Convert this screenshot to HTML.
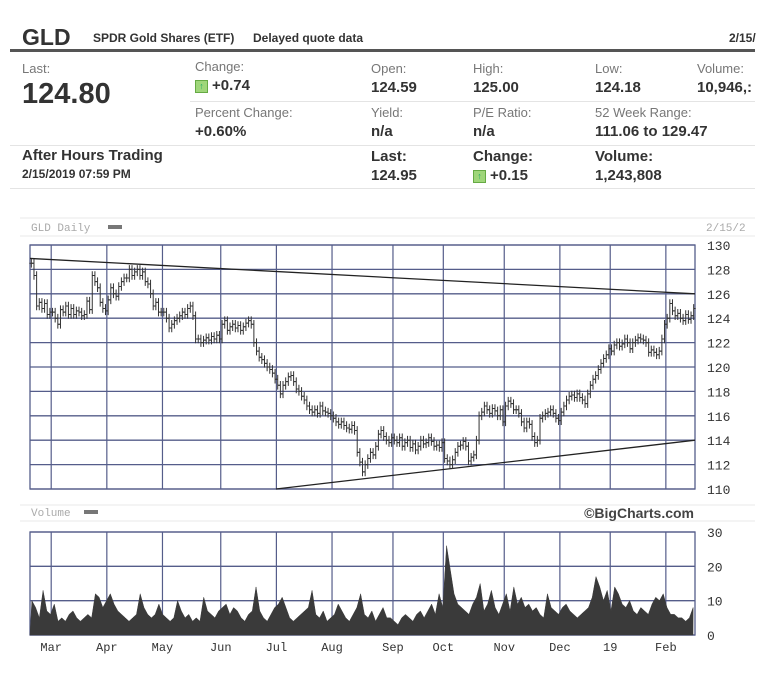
<!DOCTYPE html>
<html><head><meta charset="utf-8">
<style>
body{margin:0;width:768px;height:682px;background:#fff;position:relative;overflow:hidden;font-family:"Liberation Sans",sans-serif;color:#333}
.t{position:absolute;white-space:nowrap}
.g{color:#777;font-size:13px}
.v{font-weight:bold;font-size:15px;color:#333}
.up{display:inline-block;width:11px;height:11px;background:#9fd67a;border:1px solid #6a4;font-size:9px;line-height:10px;text-align:center;color:#2a6;vertical-align:1px;margin-right:4px}
.hl{position:absolute;height:1px;background:#e4e4e4}
svg{position:absolute;left:0;top:0}
.mono{font-family:"Liberation Mono","DejaVu Sans Mono",monospace}
</style></head><body>
<div class="t" style="left:22px;top:24px;font-size:23px;font-weight:bold">GLD</div>
<div class="t" style="left:93px;top:31px;font-size:12px;font-weight:bold">SPDR Gold Shares (ETF)</div>
<div class="t" style="left:253px;top:31px;font-size:12px;font-weight:bold">Delayed quote data</div>
<div class="t" style="left:729px;top:31px;font-size:12px;font-weight:bold">2/15/</div>
<div style="position:absolute;left:10px;top:49px;width:745px;height:3px;background:#555"></div>

<div class="t g" style="left:22px;top:61px">Last:</div>
<div class="t" style="left:22px;top:78px;font-size:29px;font-weight:bold">124.80</div>
<div class="t g" style="left:195px;top:59px">Change:</div>
<div class="t v" style="left:195px;top:77px"><span class="up">↑</span>+0.74</div>
<div class="t g" style="left:371px;top:61px">Open:</div>
<div class="t v" style="left:371px;top:79px">124.59</div>
<div class="t g" style="left:473px;top:61px">High:</div>
<div class="t v" style="left:473px;top:79px">125.00</div>
<div class="t g" style="left:595px;top:61px">Low:</div>
<div class="t v" style="left:595px;top:79px">124.18</div>
<div class="t g" style="left:697px;top:61px">Volume:</div>
<div class="t v" style="left:697px;top:79px">10,946,:</div>
<div class="hl" style="left:190px;top:101px;width:565px"></div>
<div class="t g" style="left:195px;top:105px">Percent Change:</div>
<div class="t v" style="left:195px;top:123px">+0.60%</div>
<div class="t g" style="left:371px;top:105px">Yield:</div>
<div class="t v" style="left:371px;top:123px">n/a</div>
<div class="t g" style="left:473px;top:105px">P/E Ratio:</div>
<div class="t v" style="left:473px;top:123px">n/a</div>
<div class="t g" style="left:595px;top:105px">52 Week Range:</div>
<div class="t v" style="left:595px;top:123px">111.06 to 129.47</div>
<div class="hl" style="left:10px;top:145px;width:745px"></div>
<div class="t" style="left:22px;top:147px;font-size:15px;font-weight:bold">After Hours Trading</div>
<div class="t" style="left:22px;top:167px;font-size:12px;font-weight:bold">2/15/2019 07:59 PM</div>
<div class="t v" style="left:371px;top:148px">Last:</div>
<div class="t v" style="left:371px;top:167px">124.95</div>
<div class="t v" style="left:473px;top:148px">Change:</div>
<div class="t v" style="left:473px;top:167px"><span class="up">↑</span>+0.15</div>
<div class="t v" style="left:595px;top:148px">Volume:</div>
<div class="t v" style="left:595px;top:167px">1,243,808</div>
<div class="hl" style="left:10px;top:188px;width:745px"></div>

<svg id="chart" width="768" height="682"></svg>
<script>
const months=["Mar","Apr","May","Jun","Jul","Aug","Sep","Oct","Nov","Dec","19","Feb"];
const monthStartIdx=[8,29,50,72,93,114,137,156,179,200,219,240];
const priceTicks=[110,112,114,116,118,120,122,124,126,128,130];
const volTicks=[0,10,20,30];
const closes=[128.5,127.5,125,125.3,124.8,125.2,124.3,124.5,
124.5,124,123.5,124.7,124.5,125,124.3,124.8,124.3,124.6,124.5,124.2,124.3,125.4,124.7,127.5,127,126.5,125.3,124.8,124.6,
125.5,126.5,126,125.8,126.6,127,127.3,127.3,128,127.5,127.8,128,127.5,127.8,127,126.8,126,125,125.3,124.5,124.5,
124.5,124,123.2,123.5,123.8,124,124.2,124.5,124.3,124.8,125,124.2,122.3,122.3,122,122.2,122.4,122.2,122.5,122.3,122.6,122.3,
123.5,123.8,123,123.3,123.5,123.2,123.4,123,123.3,123.6,123.8,123.5,122,121.3,120.8,120.6,120.3,120,119.8,119.5,119,
118.5,117.8,118.5,118.8,119.2,119.3,118.8,118.2,118,117.6,117.3,116.8,116.5,116.3,116.5,116.2,116.8,116.4,116.3,116.2,116,
115.8,115.5,115.3,115.5,115.2,115,114.9,115.2,114.8,113,112.2,111.4,112,112.5,113,112.8,113.5,114.5,114.8,114.3,114,113.8,114.2,
114,113.8,114.2,113.5,113.8,114,113.4,113.7,113.2,113.5,114,113.7,113.8,114.2,113.9,113.5,113.6,113.4,113.8,
112.5,112.3,112,112.4,113,113.5,113.6,113.9,113.5,112.3,112.6,112.8,114,116,116.3,116.8,116.5,116.2,116.6,116.4,116,116.5,115.5,
116.8,117.2,117,116.5,116.5,116.2,115.5,115,115.5,115.3,114.3,113.8,114,115.8,116,116.2,116.3,116.5,116.2,115.8,115.6,
116.3,116.8,117.3,117.6,117.7,117.5,117.8,117.5,117.3,117,117.8,118.5,119,119.3,119.8,120.3,120.7,121,121.5,
121.3,121.8,122,121.7,121.9,122.3,122,121.5,122,122.2,122.4,122.3,122.2,122,121.2,121.4,121.2,121,121.3,122.3,123.5,
124,125.2,124.6,124.2,124.4,124,123.8,124.3,123.9,124.2,124.8];
const volumes=[10,8,5,13,7,6,9,4,5,4,6,7,5,4,5,6,5,12,11,8,10,12,9,7,6,5,4,5,6,12,8,6,5,6,9,6,5,4,5,10,7,5,6,4,5,4,11,7,6,5,7,8,9,6,8,7,5,4,6,7,14,7,5,4,6,8,9,11,8,5,4,5,6,7,8,13,6,5,7,4,5,6,9,7,5,4,6,8,12,6,5,7,4,6,8,5,5,4,3,5,6,5,4,6,7,5,7,9,6,12,8,26,19,12,9,8,7,6,9,11,15,7,9,13,8,6,9,12,7,14,9,11,8,9,7,8,6,5,12,8,7,6,8,9,7,6,5,6,7,8,11,17,14,10,13,7,14,12,9,8,10,7,6,8,7,6,9,11,10,12,8,6,6,5,5,4,5,8];
const upperTrend=[128.9,126.0];
const lowerTrend=[110.0,114.0];
const NS="http://www.w3.org/2000/svg";
const svg=document.getElementById('chart');
const PL=30,PR=695,PT=245,PB=489,VT=532,VB=635;
const N=closes.length;
const xi=i=>PL+(i+0.5)*(PR-PL)/N;
const yp=v=>PB-(v-110)*(PB-PT)/20;
const yv=v=>VB-v*(VB-VT)/30;
function el(tag,attrs){const e=document.createElementNS(NS,tag);for(const k in attrs)e.setAttribute(k,attrs[k]);svg.appendChild(e);return e;}
// header rules
let r;
r=el('line',{x1:20,x2:755,y1:218,y2:218,stroke:'#e8e8e8'});
r=el('line',{x1:20,x2:755,y1:236,y2:236,stroke:'#e8e8e8'});
r=el('line',{x1:20,x2:755,y1:505,y2:505,stroke:'#e8e8e8'});
r=el('line',{x1:20,x2:755,y1:521,y2:521,stroke:'#e8e8e8'});
let t=el('text',{x:31,y:231,'font-size':11,fill:'#aaa',class:'mono'});t.textContent='GLD Daily';

el('rect',{x:108,y:225,width:14,height:4,fill:'#777'});
t=el('text',{x:706,y:231,'font-size':11,fill:'#aaa',class:'mono'});t.textContent='2/15/2';

t=el('text',{x:31,y:516,'font-size':11,fill:'#aaa',class:'mono'});t.textContent='Volume';

el('rect',{x:84,y:510,width:14,height:4,fill:'#777'});
t=el('text',{x:694,y:518,'font-size':14,'font-weight':'bold',fill:'#444','text-anchor':'end'});t.textContent='©BigCharts.com';

// grids
priceTicks.forEach(v=>{
 const l=el('line',{x1:PL,x2:PR,y1:yp(v),y2:yp(v),stroke:'#555d8a','stroke-width':1.3});
 
 const tx=el('text',{x:707,y:yp(v)+5,'font-size':13,fill:'#333',class:'mono'});tx.textContent=v;
 
});
volTicks.forEach(v=>{
 const l=el('line',{x1:PL,x2:PR,y1:yv(v),y2:yv(v),stroke:'#555d8a','stroke-width':1.3});
 
 const tx=el('text',{x:707,y:yv(v)+5,'font-size':13,fill:'#333',class:'mono'});tx.textContent=v;
 
});
months.forEach((m,k)=>{
 const x=PL+monthStartIdx[k]*(PR-PL)/N;
 let l=el('line',{x1:x,x2:x,y1:PT,y2:PB,stroke:'#555d8a','stroke-width':1.2});
 
 l=el('line',{x1:x,x2:x,y1:VT,y2:VB,stroke:'#555d8a','stroke-width':1.2});
 
 const tx=el('text',{x:x,y:651,'font-size':12,fill:'#333','text-anchor':'middle',class:'mono'});tx.textContent=m;
 
});
[[PL,PR,PT,PB],[PL,PR,VT,VB]].forEach(b=>{el('rect',{x:b[0],y:b[2],width:b[1]-b[0],height:b[3]-b[2],fill:'none',stroke:'#555d8a','stroke-width':1.3});});
// trend lines
r=el('line',{x1:PL,y1:yp(upperTrend[0]),x2:PR,y2:yp(upperTrend[1]),stroke:'#222','stroke-width':1.3});

r=el('line',{x1:276,y1:yp(lowerTrend[0]),x2:PR,y2:yp(lowerTrend[1]),stroke:'#222','stroke-width':1.3});

// price bars
closes.forEach((c,i)=>{
 const prev=i?closes[i-1]:c;
 const hi=Math.max(c,prev)+0.35,lo=Math.min(c,prev)-0.35;
 const x=xi(i);
 const b=el('path',{d:`M${x},${yp(hi)}V${yp(lo)}M${x-2},${yp(prev)}H${x}M${x},${yp(c)}H${x+2}`,stroke:'#333','stroke-width':1,fill:'none'});
 
});
// volume area
const M=volumes.length;
const xv=i=>PL+(i+0.5)*(PR-PL)/M;
let d=`M${PL},${VB}`;
volumes.forEach((v,i)=>{d+=`L${xv(i)},${yv(v)}`;});
d+=`L${PR-2},${VB}Z`;
const a=el('path',{d:d,fill:'#3a3a3a',stroke:'#3a3a3a','stroke-width':0.5});

</script>
</body></html>
